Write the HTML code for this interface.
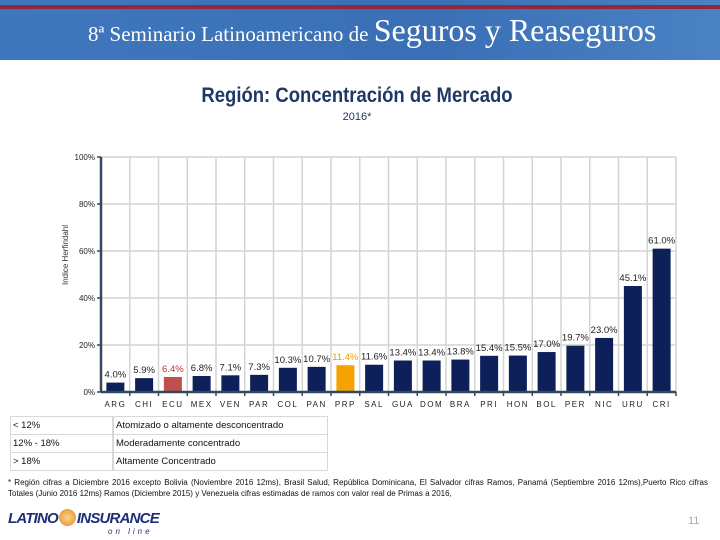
<!DOCTYPE html>
<html><head><meta charset="utf-8"><style>
body{margin:0;width:720px;height:540px;position:relative;overflow:hidden;background:#fff;font-family:"Liberation Sans",sans-serif}
.abs{position:absolute}
</style></head><body>
<div class="abs" style="left:0;top:0;width:720px;height:60px;background:linear-gradient(90deg,#3f77bd,#3a6fb5 60%,#4a82c4)">
 <div class="abs" style="left:0;top:5px;width:720px;height:4px;background:#8e2a3c"></div>
 <div class="abs" style="left:88px;top:12px;color:#fff;font-family:'Liberation Serif',serif;white-space:nowrap"><span style="font-size:21px">8ª Seminario Latinoamericano de </span><span style="font-size:32px">Seguros y Reaseguros</span></div>
</div>
<div class="abs" style="left:0;width:714px;top:84px;text-align:center;font-size:21px;font-weight:bold;color:#1f3864;transform:scaleX(0.88)">Región: Concentración de Mercado</div>
<div class="abs" style="left:0;width:714px;top:111px;text-align:center;font-size:11px;color:#1f3864">2016*</div>
<svg class="abs" style="left:0;top:0" width="720" height="540">
<g id="grid"></g><g id="bars"></g><g id="labels"></g><g id="axes"></g>
<text transform="translate(68,255) rotate(-90)" text-anchor="middle" font-size="8" fill="#333">Indice Herfindahl</text>
</svg>
<div class="abs" style="left:10px;top:416px;width:318px;font-size:9.5px;color:#111">
 <div style="height:17px;border:1px solid #d8d8d8;display:flex"><div style="width:97px;border-right:2px solid #d8d8d8;padding:3px 2px">&lt; 12%</div><div style="padding:3px 2px">Atomizado o altamente desconcentrado</div></div>
 <div style="height:17px;border:1px solid #d8d8d8;border-top:0;display:flex"><div style="width:97px;border-right:2px solid #d8d8d8;padding:3px 2px">12% - 18%</div><div style="padding:3px 2px">Moderadamente concentrado</div></div>
 <div style="height:17px;border:1px solid #d8d8d8;border-top:0;display:flex"><div style="width:97px;border-right:2px solid #d8d8d8;padding:3px 2px">&gt; 18%</div><div style="padding:3px 2px">Altamente Concentrado</div></div>
</div>
<div class="abs" style="left:8px;top:477px;width:700px;font-size:8px;line-height:11px;color:#111;text-align:justify">* Región cifras a Diciembre 2016 excepto Bolivia (Noviembre 2016 12ms), Brasil Salud, República Dominicana, El Salvador cifras Ramos, Panamá (Septiembre 2016 12ms),Puerto Rico cifras Totales (Junio 2016 12ms) Ramos (Diciembre 2015) y Venezuela cifras estimadas de ramos con valor real de Primas a 2016,</div>
<div class="abs" style="left:8px;top:509px;font-size:15px;font-weight:bold;font-style:italic;color:#1c2f78;white-space:nowrap;letter-spacing:-0.8px">LATINO<span style="display:inline-block;width:17px;height:17px;border-radius:50%;background:radial-gradient(#fbd38a,#e58b20);vertical-align:-3px;margin:0 1px"></span>INSURANCE</div>
<div class="abs" style="left:108px;top:527px;font-size:8px;font-style:italic;color:#1c2f78;letter-spacing:3px">on line</div>
<div class="abs" style="left:688px;top:515px;font-size:11px;color:#aaa">11</div>
<script>
const categories=["ARG","CHI","ECU","MEX","VEN","PAR","COL","PAN","PRP","SAL","GUA","DOM","BRA","PRI","HON","BOL","PER","NIC","URU","CRI"];
const values=[4.0,5.9,6.4,6.8,7.1,7.3,10.3,10.7,11.4,11.6,13.4,13.4,13.8,15.4,15.5,17.0,19.7,23.0,45.1,61.0];
const valueLabels=["4.0%","5.9%","6.4%","6.8%","7.1%","7.3%","10.3%","10.7%","11.4%","11.6%","13.4%","13.4%","13.8%","15.4%","15.5%","17.0%","19.7%","23.0%","45.1%","61.0%"];
const yTicks=[0,20,40,60,80,100];
const yTickLabels=["0%","20%","40%","60%","80%","100%"];
const X0=101,X1=676,Y0=392,Y100=157;
const bw=(X1-X0)/categories.length;
const y=v=>Y0-(Y0-Y100)*v/100;
const xc=i=>X0+bw*(i+0.5);
const NS="http://www.w3.org/2000/svg";
function mk(t,a,p){const e=document.createElementNS(NS,t);for(const k in a)e.setAttribute(k,a[k]);p.appendChild(e);return e;}
const G=document.getElementById('grid'),B=document.getElementById('bars'),L=document.getElementById('labels'),A=document.getElementById('axes');
yTicks.forEach((t,i)=>{
 const l=mk('line',{x1:X0,x2:X1,y1:y(t),y2:y(t),stroke:'#d4d4d4','stroke-width':1.5},G);
 
 
 const tk=mk('line',{x1:X0-4,x2:X0,y1:y(t),y2:y(t),stroke:'#34495e','stroke-width':1.5},A);
 
 
 const tx=mk('text',{x:X0-6,y:y(t)+3,'text-anchor':'end','font-size':8,fill:'#222'},A);
 tx.textContent=yTickLabels[i];
 
 
});
for(let i=1;i<=categories.length;i++){
 const l=mk('line',{x1:X0+bw*i,x2:X0+bw*i,y1:Y100,y2:Y0,stroke:'#d4d4d4','stroke-width':1.5},G);
 
 
 const tk=mk('line',{x1:X0+bw*i,x2:X0+bw*i,y1:Y0,y2:Y0+4,stroke:'#34495e','stroke-width':1.5},A);
 
 
}
const ax=mk('line',{x1:X0,x2:X0,y1:Y100,y2:Y0,stroke:'#34495e','stroke-width':2.5},A);


const ax2=mk('line',{x1:X0,x2:X1,y1:Y0,y2:Y0,stroke:'#34495e','stroke-width':2.5},A);


categories.forEach((c,i)=>{
 const col=c==="ECU"?"#c0504d":c==="PRP"?"#f5a300":"#0d2059";
 const r=mk('rect',{x:xc(i)-9,y:y(values[i]),width:18,height:Y0-y(values[i]),fill:col},B);
 
 
 const tl=mk('text',{x:xc(i),y:y(values[i])-5,'text-anchor':'middle','font-size':9.5,fill:c==="ECU"?"#b03a3a":c==="PRP"?"#e8a000":"#222"},L);
 tl.textContent=valueLabels[i];
 
 
 const xl=mk('text',{x:xc(i),y:Y0+15,'text-anchor':'middle','font-size':8,fill:'#222','letter-spacing':1.5},A);
 xl.textContent=c;
 
 
});
</script>
</body></html>
